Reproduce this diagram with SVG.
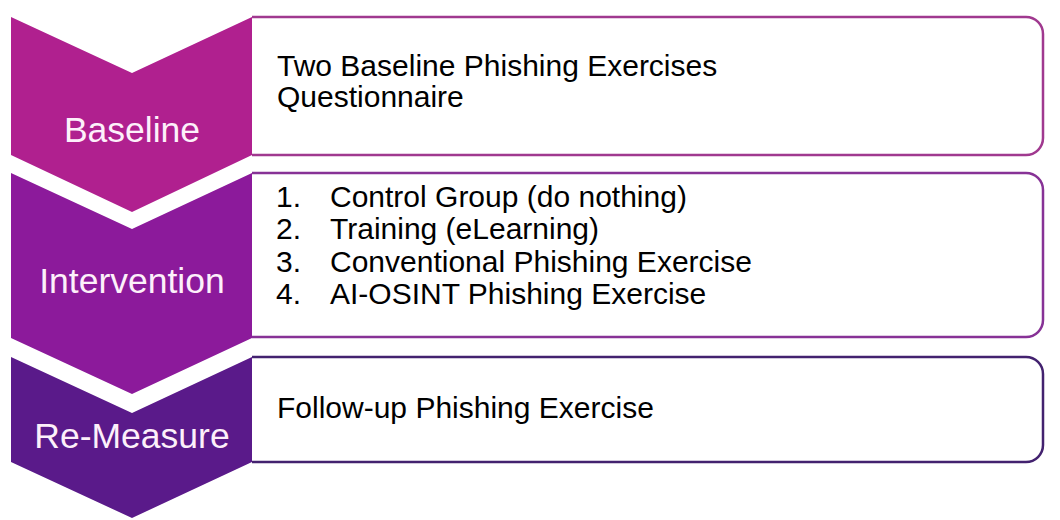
<svg xmlns="http://www.w3.org/2000/svg" width="1060" height="520" viewBox="0 0 1060 520">
<style>
.box{fill:#ffffff;stroke-width:2.5}
.lbl{font-family:"Liberation Sans",Arial,sans-serif;font-size:35.5px;fill:#fdf0fa;text-anchor:middle}
.txt{font-family:"Liberation Sans",Arial,sans-serif;font-size:30px;fill:#000000}
</style>
<rect width="1060" height="520" fill="#ffffff"/>
<g id="baseline">
<path class="box" d="M252,17 H1026 A17,17 0 0 1 1043,34 V138 A17,17 0 0 1 1026,155 H252" stroke="#a0398f"/>
<path d="M11,17 L132,73 L252,17 L252,155 L132,212 L11,155 Z" fill="#b0208f"/>
<text class="lbl" x="132" y="142">Baseline</text>
<text class="txt" x="277" y="76">Two Baseline Phishing Exercises</text>
<text class="txt" x="277" y="107">Questionnaire</text>
</g>
<g id="intervention">
<path class="box" d="M252,173 H1026 A17,17 0 0 1 1043,190 V320 A17,17 0 0 1 1026,337 H252" stroke="#873296"/>
<path d="M11,173 L132,229 L252,173 L252,338 L132,394 L11,338 Z" fill="#8c1a9b"/>
<text class="lbl" x="132" y="293">Intervention</text>
<text class="txt" x="276" y="207">1.</text>
<text class="txt" x="330" y="207">Control Group (do nothing)</text>
<text class="txt" x="276" y="239">2.</text>
<text class="txt" x="330" y="239">Training (eLearning)</text>
<text class="txt" x="276" y="272">3.</text>
<text class="txt" x="330" y="272">Conventional Phishing Exercise</text>
<text class="txt" x="276" y="304">4.</text>
<text class="txt" x="330" y="304">AI-OSINT Phishing Exercise</text>
</g>
<g id="remeasure">
<path class="box" d="M252,357 H1026 A17,17 0 0 1 1043,374 V445 A17,17 0 0 1 1026,462 H252" stroke="#43226f"/>
<path d="M11,357 L132,413 L252,357 L252,462 L132,518 L11,462 Z" fill="#5a1a8a"/>
<text class="lbl" x="132" y="448">Re-Measure</text>
<text class="txt" x="277" y="418">Follow-up Phishing Exercise</text>
</g>
<g id="connectors"></g>
</svg>
